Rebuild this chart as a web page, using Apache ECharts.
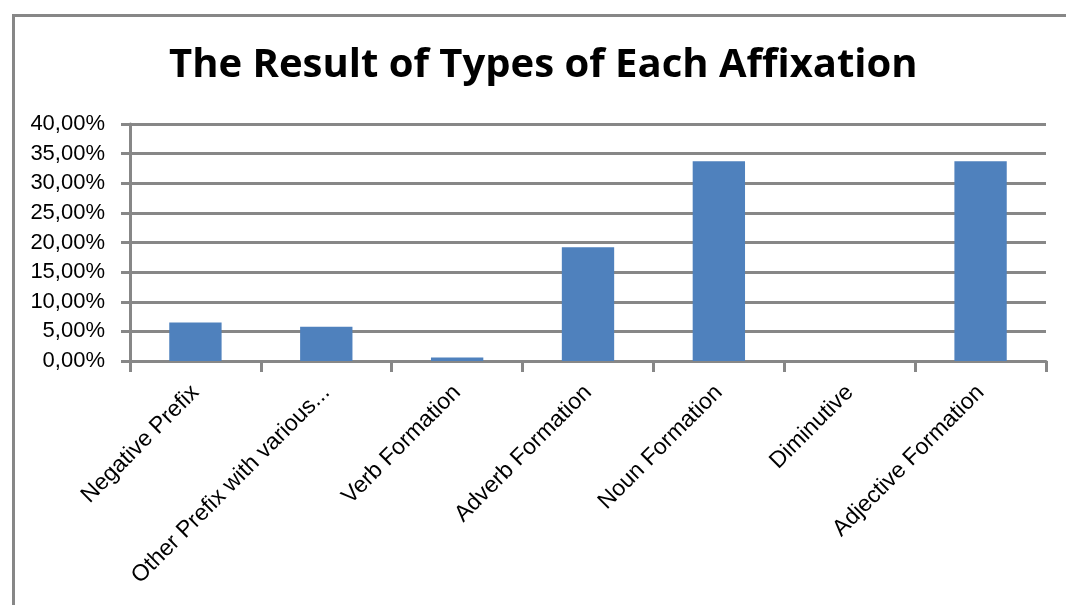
<!DOCTYPE html>
<html><head><meta charset="utf-8">
<script src="https://cdn.jsdelivr.net/npm/echarts@6/dist/echarts.min.js"></script>
<style>html,body{margin:0;padding:0;background:#fff}#c{width:1066px;height:605px}</style>
</head><body><div id="c"></div>
<script>
const titleText = "The Result of Types of Each Affixation";
const categories = ["Negative Prefix", "Other Prefix with various...", "Verb Formation", "Adverb Formation", "Noun Formation", "Diminutive", "Adjective Formation"];
const values = [6.5, 5.8, 0.6, 19.2, 33.7, 0, 33.7];
const yMin = 0, yMax = 40, yStep = 5;

const chart = echarts.init(document.getElementById('c'), null, {renderer: 'canvas'});
chart.setOption({
  animation: false,
  backgroundColor: '#fff',
  graphic: [{
    type: 'rect', left: 11, top: 13,
    shape: {width: 1100, height: 700},
    style: {fill: 'none', stroke: '#878787', lineWidth: 3}, silent: true
  }],
  title: {
    text: titleText, left: 164, top: 41,
    textStyle: {fontFamily: 'Open Sans', fontWeight: 'bold', fontSize: 40, color: '#000'}
  },
  grid: {left: 130, right: 20, top: 124, bottom: 244, containLabel: false},
  xAxis: {
    type: 'category', data: categories,
    axisLine: {lineStyle: {color: '#878787', width: 3}},
    axisTick: {show: true, length: 11, alignWithLabel: false, lineStyle: {color: '#878787', width: 3}},
    axisLabel: {rotate: 45, interval: 0, margin: 28, fontFamily: 'Liberation Sans', fontSize: 23, color: '#000'}
  },
  yAxis: {
    type: 'value', min: yMin, max: yMax, interval: yStep,
    axisLine: {show: true, lineStyle: {color: '#878787', width: 3}},
    axisTick: {show: true, length: 9, lineStyle: {color: '#878787', width: 3}},
    splitLine: {lineStyle: {color: '#878787', width: 3}},
    axisLabel: {
      margin: 25, fontFamily: 'Liberation Sans', fontSize: 22, color: '#000',
      formatter: v => v.toFixed(2).replace('.', ',') + '%'
    }
  },
  series: [{
    type: 'bar', data: values, barCategoryGap: '60%',
    itemStyle: {color: '#4F81BD', borderWidth: 0}
  }]
});
</script></body></html>
